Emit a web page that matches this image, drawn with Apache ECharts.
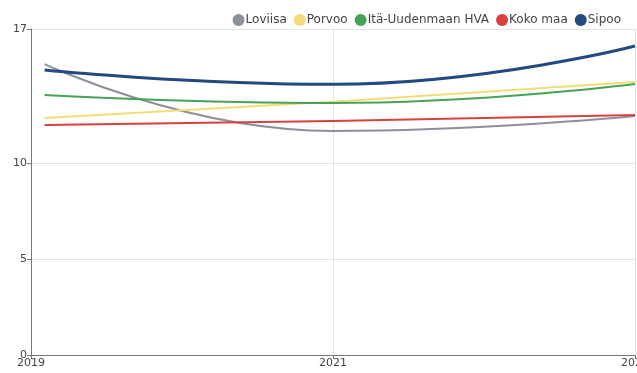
<!DOCTYPE html>
<html>
<head>
<meta charset="UTF-8">
<title></title>
<script src="https://cdn.jsdelivr.net/npm/echarts@6/dist/echarts.min.js"></script>
<style>html,body{margin:0;padding:0;background:#fff;}</style>
</head>
<body>
<div id="main" style="width:637px;height:373px;"></div>
<script>
// data
var years = [2019.09, 2021, 2023];
var loviisa = [15.17, 11.68, 12.46];
var porvoo = [12.36, 13.2, 14.23];
var itaUusimaa = [13.56, 13.14, 14.13];
var kokoMaa = [11.99, 12.2, 12.51];
var sipoo = [14.86, 14.12, 16.11];
var yTicks = [0, 5, 10, 17];
var xTicks = [2019, 2021, 2023];

function pairs(vals) {
    return vals.map(function (v, i) { return [years[i], v]; });
}

var seriesDefs = [
    { name: 'Loviisa', data: loviisa, color: '#8c909a', width: 2 },
    { name: 'Porvoo', data: porvoo, color: '#f3dc78', width: 2 },
    { name: 'Itä-Uudenmaan HVA', data: itaUusimaa, color: '#45a356', width: 2 },
    { name: 'Koko maa', data: kokoMaa, color: '#d8413e', width: 2 },
    { name: 'Sipoo', data: sipoo, color: '#234a7e', width: 3 }
];

var myChart = echarts.init(document.getElementById('main'));
var option = {
    animation: false,
    textStyle: { fontFamily: 'DejaVu Sans' },
    legend: {
        right: 11,
        top: 9,
        itemWidth: 12,
        itemHeight: 12,
        itemGap: 7,
        icon: 'circle',
        textStyle: { fontSize: 12, color: '#444', padding: [0, 0, 0, -4] },
        data: seriesDefs.map(function (s) { return s.name; })
    },
    grid: { left: 31, right: 2, top: 29, bottom: 18, outerBoundsMode: 'none', containLabel: false },
    xAxis: {
        type: 'value',
        min: 2019,
        max: 2023,
        interval: 2,
        axisLine: { lineStyle: { color: '#777' } },
        axisTick: { show: true, length: 4, lineStyle: { color: '#777' } },
        axisLabel: {
            color: '#444', fontSize: 11, margin: 3, showMaxLabel: true, customValues: xTicks,
            formatter: function (v) { return String(v); }
        },
        splitLine: { show: true, lineStyle: { color: '#e2e2e2' } }
    },
    yAxis: {
        type: 'value',
        min: 0,
        max: 17,
        axisLine: { show: true, lineStyle: { color: '#777' } },
        axisTick: { show: true, length: 4, lineStyle: { color: '#777' }, customValues: yTicks },
        axisLabel: { color: '#444', fontSize: 11, margin: 4, customValues: yTicks },
        splitLine: { show: true, lineStyle: { color: '#e2e2e2' } }
    },
    series: seriesDefs.map(function (s) {
        return {
            name: s.name,
            type: 'line',
            smooth: true,
            symbol: 'none',
            color: s.color,
            lineStyle: { color: s.color, width: s.width },
            data: pairs(s.data)
        };
    })
};
myChart.setOption(option);
</script>
</body>
</html>
